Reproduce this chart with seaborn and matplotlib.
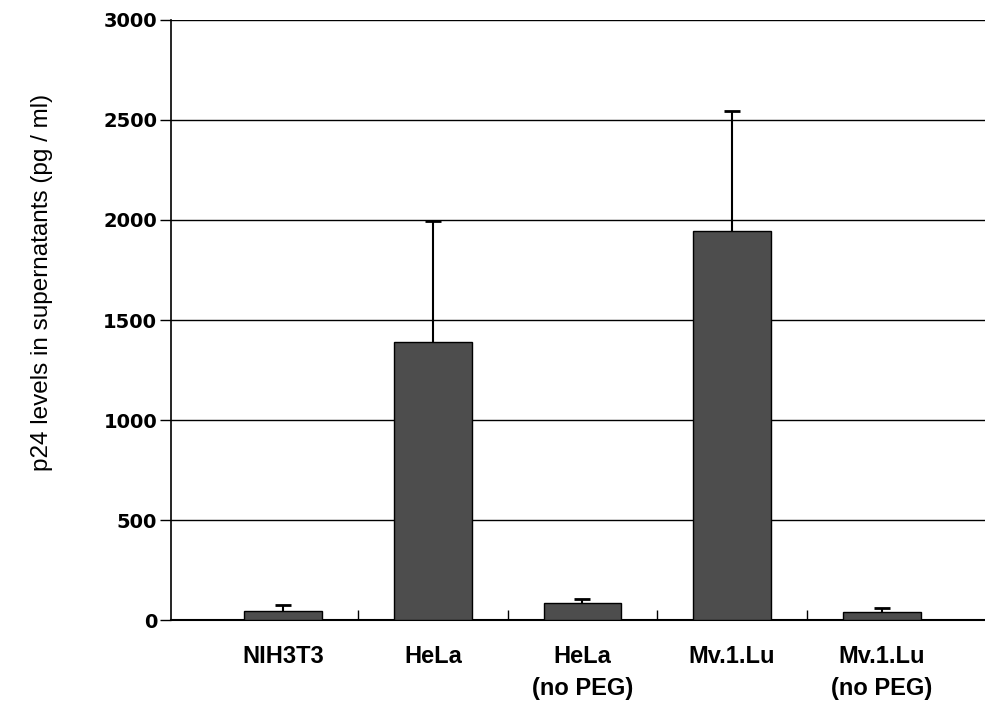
import pandas as pd
import matplotlib.pyplot as plt
import seaborn as sns
import numpy as np

cells = ["NIH3T3", "HeLa", "HeLa\n(no PEG)", "Mv.1.Lu", "Mv.1.Lu\n(no PEG)"]
p24 = [45, 1390, 85, 1945, 40]
p24_err = [30, 605, 20, 600, 20]

df = pd.DataFrame({"cell": cells, "p24": p24, "err": p24_err})

sns.set_style("white")
plt.rcParams["font.family"] = ["Liberation Sans", "DejaVu Sans"]
plt.rcParams["text.color"] = "black"

fig = plt.figure(figsize=(9.85, 7.01), dpi=100)
ax = fig.add_axes([0.1736, 0.1155, 0.8264, 0.856])

sns.barplot(data=df, x="cell", y="p24", color="#4d4d4d", edgecolor="black",
            linewidth=1.0, width=0.52, saturation=1, errorbar=None, ax=ax, zorder=3)

# upper error bars only, no cap at the bar top
eb = ax.errorbar(np.arange(len(cells)), df["p24"], yerr=[np.zeros(len(cells)), df["err"]],
                 fmt="none", ecolor="black", elinewidth=1.5, capsize=6, capthick=2, zorder=4)
eb[1][0].set_visible(False)

ax.set_ylim(0, 3000)
ax.set_xlim(-0.75, 4.69)
ax.set_yticks(np.arange(0, 3001, 500))
ax.yaxis.grid(True, color="black", linewidth=1.0, zorder=0)
ax.set_axisbelow(True)

for s in ["top", "right"]:
    ax.spines[s].set_visible(False)
ax.spines["left"].set_color("black")
ax.spines["bottom"].set_color("black")
ax.spines["left"].set_linewidth(1.2)
ax.spines["bottom"].set_linewidth(1.5)

ax.tick_params(axis="y", direction="out", length=8, width=1, color="black",
               left=True, pad=2, labelcolor="black")
for t in ax.get_yticklabels():
    t.set_fontweight("bold")
    t.set_fontfamily("DejaVu Sans")
    t.set_fontsize(14)

ax.set_xticks(np.arange(len(cells)))
ax.set_xticklabels(cells, fontsize=17, fontweight="bold", linespacing=1.5, color="black")
ax.tick_params(axis="x", length=0, pad=18)
ax.set_xticks([0.5, 1.5, 2.5, 3.5], minor=True)
ax.tick_params(axis="x", which="minor", direction="in", length=7, width=1, color="black", bottom=True)

ax.set_xlabel("")
ax.set_ylabel("p24 levels in supernatants (pg / ml)", fontsize=17.5, color="black")
ax.yaxis.set_label_coords(-0.145, 0.562)

plt.savefig("out.png", dpi=100)
